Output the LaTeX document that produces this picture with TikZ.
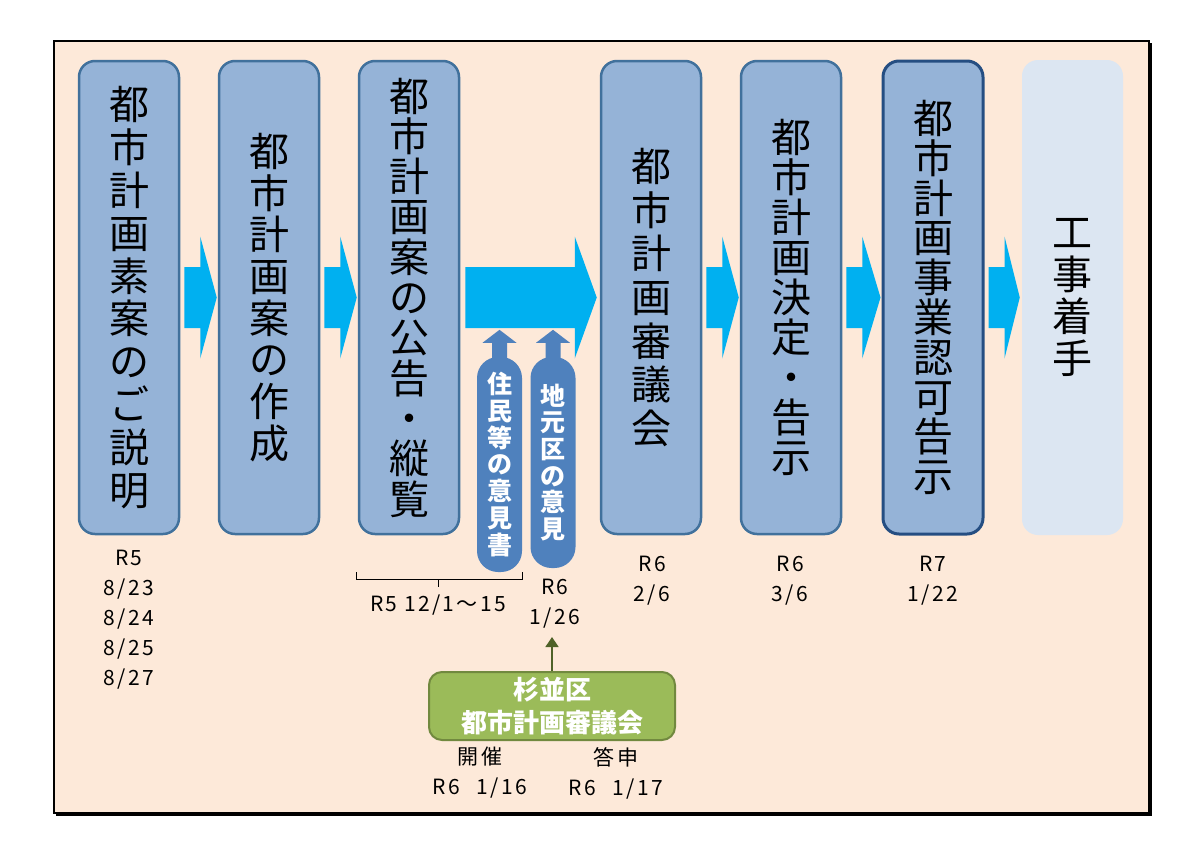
\documentclass[tikz,border=0pt]{standalone}
\usepackage{fontspec}
\setmainfont{Noto Sans CJK JP}
\newfontfamily\datefont[LetterSpace=11]{Noto Sans CJK JP}
\usepackage{tikz}
\usetikzlibrary{arrows.meta,calc,positioning}
\definecolor{Peach}{HTML}{FDE9D9}
\definecolor{Step_Fill}{HTML}{95B3D7}
\definecolor{Step_Line}{HTML}{41719C}
\definecolor{Step_Dark}{HTML}{254E82}
\definecolor{Work_Fill}{HTML}{DCE6F2}
\definecolor{Flow_Cyan}{HTML}{00B0F0}
\definecolor{Voice_Blue}{HTML}{4F81BD}
\definecolor{Ward_Green}{HTML}{9BBB59}
\definecolor{Ward_Line}{HTML}{71893F}
\definecolor{Ward_Arrow}{HTML}{4F6228}

\begin{document}
\begin{tikzpicture}[x=1pt, y=-1pt,
    stage/.style={draw=Step_Line, line width=2.5pt, fill=Step_Fill, rounded corners=16pt,
        minimum width=100pt, minimum height=473pt, align=center, inner sep=0pt},
    flow/.style={fill=Flow_Cyan},
    voice/.style={fill=Voice_Blue, rounded corners=21pt, minimum width=45pt, align=center,
        inner sep=0pt, text=white, font=\bfseries\fontsize{25}{26.7}\selectfont},
    datelbl/.style={align=center, font=\datefont\fontsize{21}{30}\selectfont}]

    % Page and frame
    \useasboundingbox (0,0) rectangle (1200,849);
    \fill[white] (0,0) rectangle (1200,849);
    \fill[black] (56,43) rectangle (1152,816);
    \draw[fill=Peach, line width=2pt] (54,41) rectangle (1149,813);

    % Steps
    \node[stage, font=\fontsize{40}{42.8}\selectfont] (s1) at (129,297.5)
        {都\\市\\計\\画\\素\\案\\の\\ご\\説\\明};
    \node[stage, font=\fontsize{40}{41.7}\selectfont] (s2) at (269,297.5)
        {都\\市\\計\\画\\案\\の\\作\\成};
    \node[stage, font=\fontsize{40}{40.3}\selectfont] (s3) at (409,297.5)
        {都\\市\\計\\画\\案\\の\\公\\告\\・\\縦\\覧};
    \node[stage, font=\fontsize{40}{43.6}\selectfont] (s4) at (651,297.5)
        {都\\市\\計\\画\\審\\議\\会};
    \node[stage, font=\fontsize{40}{40}\selectfont] (s5) at (791,297.5)
        {都\\市\\計\\画\\決\\定\\・\\告\\示};
    \node[stage, draw=Step_Dark, line width=3pt, font=\fontsize{40}{39.8}\selectfont] (s6) at (933,297.5)
        {都\\市\\計\\画\\事\\業\\認\\可\\告\\示};
    \node[stage, draw=none, fill=Work_Fill, minimum width=101pt, minimum height=475pt,
        font=\fontsize{40}{41.7}\selectfont] (s7) at (1072.5,297.5)
        {工\\事\\着\\手};

    % Chevrons between steps
    \foreach \a/\b in {s1/s2,s2/s3,s4/s5,s5/s6,s6/s7}
        \fill[flow] ($(\a.east)+(4,-30.5)$) -- ($(\a.east)+(20,-30.5)$) -- ($(\a.east)+(20,-61)$)
            -- ($(\b.west)+(-1,0)$) -- ($(\a.east)+(20,61)$) -- ($(\a.east)+(20,30.5)$)
            -- ($(\a.east)+(4,30.5)$) -- cycle;

    % Long arrow across the opinion period
    \fill[flow] ($(s3.east)+(5,-30.5)$) -- ($(s4.west)+(-25,-30.5)$) -- ($(s4.west)+(-25,-61)$)
        -- ($(s4.west)+(-3,0)$) -- ($(s4.west)+(-25,61)$) -- ($(s4.west)+(-25,30.5)$)
        -- ($(s3.east)+(5,30.5)$) -- cycle;

    % Opinions
    \node[voice, minimum height=215pt] (op1) at (499.5,464.5) {住\\民\\等\\の\\意\\見\\書};
    \node[voice, minimum height=211pt] (op2) at (553,462.5) {地\\元\\区\\の\\意\\見};
    \foreach \n in {op1,op2}
        \fill[Voice_Blue] ($(\n.north)+(-7.5,10)$) -- ($(\n.north)+(-7.5,-14)$) -- ($(\n.north)+(-17,-14)$)
            -- ($(\n.north)+(0,-27)$) -- ($(\n.north)+(17,-14)$) -- ($(\n.north)+(7.5,-14)$)
            -- ($(\n.north)+(7.5,10)$) -- cycle;

    % Dates
    \node[datelbl] (d1) at (129,620) {R5\\8/23\\8/24\\8/25\\8/27};
    \node[datelbl] (d4) at (652,581) {R6\\2/6};
    \node[datelbl] (d5) at (790,581) {R6\\3/6};
    \node[datelbl] (d6) at (933,581) {R7\\1/22};
    \node[datelbl] (d26) at (555,604) {R6\\1/26};

    % Public inspection period
    \draw[line width=1pt] (356,572) -- (356,579) -- (522,579) -- (522,572);
    \draw[line width=1pt] (438,579) -- (438,587);
    \node[datelbl] (inspect) at (438,605) {R5 12/1～15};

    % Ward council
    \node[draw=Ward_Line, line width=2pt, fill=Ward_Green, rounded corners=13pt, minimum width=246pt,
        minimum height=68pt, align=center, text=white, inner sep=0pt,
        font=\bfseries\fontsize{26}{33}\selectfont] (ward) at (552,706) {杉並区\\都市計画審議会};
    \coordinate (wardtip) at (552,637);
    \draw[Ward_Arrow, line width=1.5pt, -{Triangle[width=13pt,length=10pt]}] (ward.north) -- (wardtip);
    \node[datelbl] (held) at (480,773) {開催\\R6\hspace{0.8em}1/16};
    \node[datelbl] (reply) at (616,773) {答申\\R6\hspace{0.8em}1/17};

\end{tikzpicture}
\end{document}
